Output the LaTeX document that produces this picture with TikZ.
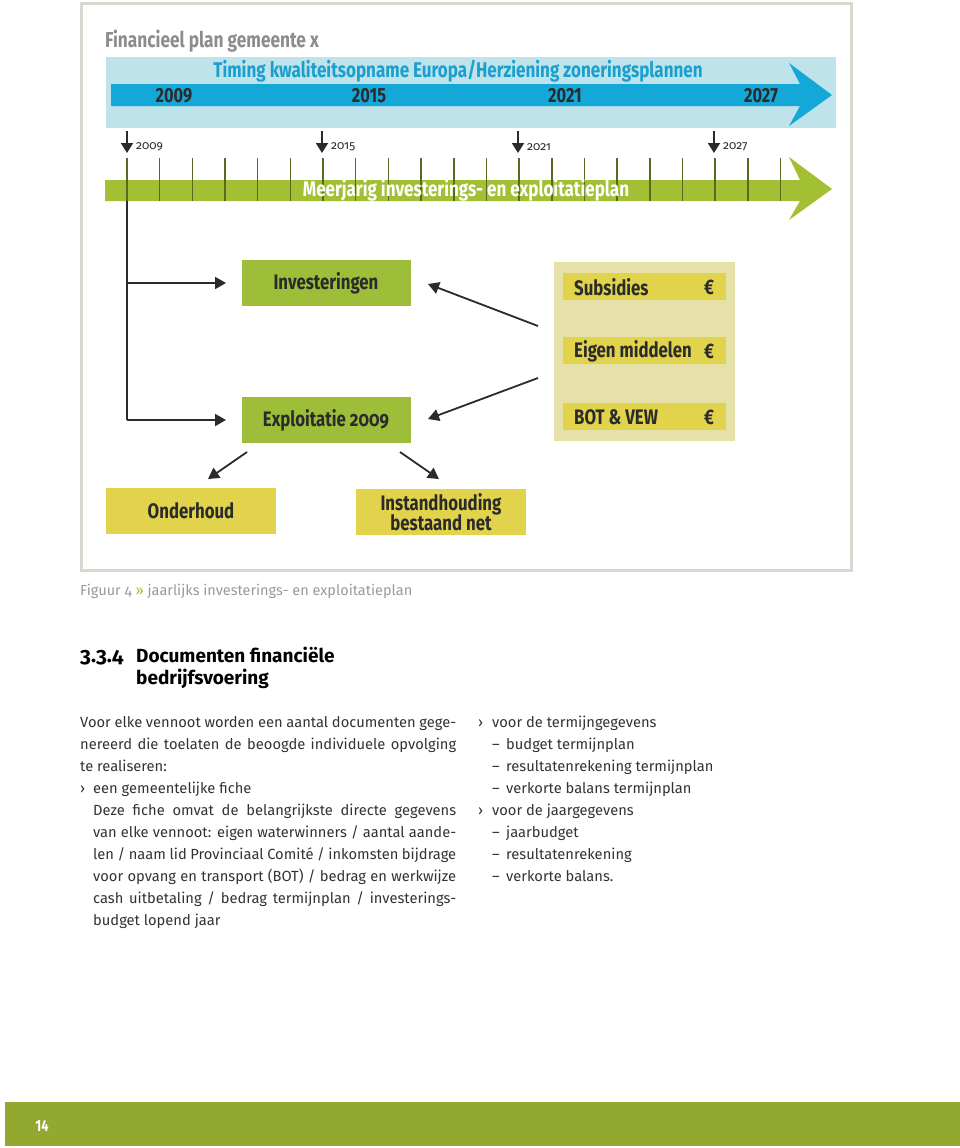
\documentclass[tikz,border=0pt]{standalone}
\usepackage{fontspec}
\setmainfont{Fira Sans}
\newfontfamily\cond[FakeStretch=0.8]{Fira Sans}
\newfontfamily\condosf[FakeStretch=0.8,Numbers=OldStyle]{Fira Sans}
\newfontfamily\osf[Numbers=OldStyle]{Fira Sans}
\usetikzlibrary{arrows.meta}
\definecolor{framegray}{HTML}{D9D9D1}
\definecolor{titlegray}{HTML}{8C8C8C}
\definecolor{lightblue}{HTML}{BEE3EA}
\definecolor{bluearrow}{HTML}{14A8D9}
\definecolor{bluetext}{HTML}{1B9FCF}
\definecolor{greenband}{HTML}{A3BF33}
\definecolor{tickcol}{HTML}{5A6A1C}
\definecolor{greenbox}{HTML}{9EBE3A}
\definecolor{yellowbox}{HTML}{E2D34C}
\definecolor{beige}{HTML}{E6E0A9}
\definecolor{footgreen}{HTML}{93A830}
\definecolor{darktext}{HTML}{2B2B2B}
\definecolor{captgray}{HTML}{9A9A9A}
\definecolor{bodytext}{HTML}{333333}
\begin{document}
\begin{tikzpicture}[x=1pt,y=-1pt,
  boxtext/.style={font=\cond\bfseries\fontsize{21}{20}\selectfont, text=darktext},
  greenrect/.style={fill=greenbox, minimum width=169pt, minimum height=46pt, inner sep=0pt, boxtext},
  yellowrect/.style={fill=yellowbox, minimum width=170pt, minimum height=46pt, inner sep=0pt, boxtext, align=center},
  finrect/.style={fill=yellowbox, minimum width=163pt, minimum height=27pt, inner sep=0pt},
  conn/.style={draw=darktext, line width=1.8pt, -{Triangle[length=11pt,width=12pt]}},
  tick/.style={draw=tickcol, line width=1.6pt},
  yearlbl/.style={font=\osf\fontsize{12}{14}\selectfont, text=darktext, anchor=west, inner sep=0pt},
  bigyear/.style={font=\cond\bfseries\fontsize{20.5}{22}\selectfont, text=darktext, inner sep=0pt},
  bandtext/.style={inner sep=0pt, font=\cond\bfseries\fontsize{21.3}{22}\selectfont},
  body/.style={font=\fontsize{14.7}{17}\selectfont, text=bodytext, anchor=base west, inner sep=0pt},
]
\useasboundingbox (0,0) rectangle (960,1148);
\fill[white] (0,0) rectangle (960,1148);

% frame
\draw[framegray, line width=3pt] (81.5,3.5) rectangle (851.5,570.5);

% title
\node[anchor=west, inner sep=0pt, text=titlegray, font=\cond\bfseries\fontsize{21.6}{22}\selectfont] (title) at (105,41) {Financieel plan gemeente x};

% blue timing band
\fill[lightblue] (106,57) rectangle (836,128);
\fill[bluearrow] (111,84) -- (800,84) -- (789,63) -- (832,95) -- (789,126) -- (800,106) -- (111,106) -- cycle;
\node[bandtext, text=bluetext] (timing) at (458,71) {Timing kwaliteitsopname Europa/Herziening zoneringsplannen};
\node[bigyear] (y1) at (174,96) {2009};
\node[bigyear] (y2) at (369,96) {2015};
\node[bigyear] (y3) at (565,96) {2021};
\node[bigyear] (y4) at (761,96) {2027};

% small down arrows with years
\foreach \x/\yr [count=\i] in {127/2009,322/2015,518/2021,714/2027}{
  \coordinate (da\i) at (\x,131);
  \coordinate (db\i) at (\x,153);
  \draw[draw=darktext, line width=1.8pt, -{Triangle[length=10pt,width=12pt]}] (da\i) -- (db\i);
  \node[yearlbl] (sy\i) at (\x+9,147) {\yr};
}

% green band
\fill[greenband] (105,180) -- (800,180) -- (789,157) -- (832,189) -- (789,220) -- (800,201) -- (105,201) -- cycle;
\foreach \i in {0,...,20}{
  \draw[tick] (127+\i*32.67,158) -- (127+\i*32.67,201);
}
\node[bandtext, text=white] (meer) at (466,190) {Meerjarig investerings- en exploitatieplan};

% boxes
\node[greenrect] (inv) at (326,283) {Investeringen};
\node[greenrect] (expl) at (326,420) {\condosf\bfseries Exploitatie 2009};
\fill[beige] (554,262) rectangle (735,441);
\node[finrect] (sub) at (644,286) {};
\node[boxtext, anchor=west, inner sep=0pt] (subt) at (574,287) {Subsidies};
\node[boxtext, inner sep=0pt] (sube) at (709,287) {€};
\node[finrect] (eig) at (644,350) {};
\node[boxtext, anchor=west, inner sep=0pt] (eigt) at (574,351) {Eigen middelen};
\node[boxtext, inner sep=0pt] (eige) at (709,351) {€};
\node[finrect] (bot) at (644,416) {};
\node[boxtext, anchor=west, inner sep=0pt] (bott) at (574,417) {BOT \& VEW};
\node[boxtext, inner sep=0pt] (bote) at (709,417) {€};

\node[yellowrect] (ond) at (191,511) {Onderhoud};
\node[yellowrect] (inst) at (441,512) {Instandhouding\\[-1pt]bestaand net};

% connectors
\coordinate (vtop) at (127,201);
\coordinate (vinv) at (127,283);
\coordinate (vexp) at (127,420);
\coordinate (tinv) at (226,283);
\coordinate (texp) at (226,420);
\draw[draw=darktext, line width=1.8pt] (vtop) -- (vexp);
\draw[conn] (vinv) -- (tinv);
\draw[conn] (vexp) -- (texp);

\coordinate (s1) at (538,326);
\coordinate (e1) at (428,284);
\coordinate (s2) at (538,378);
\coordinate (e2) at (428,419);
\draw[conn] (s1) -- (e1);
\draw[conn] (s2) -- (e2);

\coordinate (s3) at (247,452);
\coordinate (e3) at (208,479);
\coordinate (s4) at (400,452);
\coordinate (e4) at (439,479);
\draw[conn] (s3) -- (e3);
\draw[conn] (s4) -- (e4);

% caption
\node[anchor=west, inner sep=0pt, text=captgray, font=\osf\fontsize{14.5}{17}\selectfont] (capt) at (80,591) {Figuur 4 \textcolor{greenband}{»} jaarlijks investerings- en exploitatieplan};

% heading
\node[anchor=base west, inner sep=0pt, text=black, font=\osf\bfseries\fontsize{21}{22}\selectfont] (hnum) at (80,662) {3.3.4};
\node[anchor=base west, inner sep=0pt, text=black, font=\bfseries\fontsize{19}{22}\selectfont] (h1) at (136,662) {Documenten financiële};
\node[anchor=base west, inner sep=0pt, text=black, font=\bfseries\fontsize{19}{22}\selectfont] (h2) at (136,684) {bedrijfsvoering};

% left column
\node[body] (l1) at (80,727) {\makebox[376pt][s]{Voor elke vennoot worden een aantal documenten gege-}};
\node[body] (l2) at (80,749) {\makebox[376pt][s]{nereerd die toelaten de beoogde individuele opvolging}};
\node[body] (l3) at (80,771) {te realiseren:};
\node[body] (l4b) at (80,793) {›};
\node[body] (l4) at (93,793) {een gemeentelijke fiche};
\node[body] (l5) at (93,815) {\makebox[363pt][s]{Deze fiche omvat de belangrijkste directe gegevens}};
\node[body] (l6) at (93,837) {\makebox[363pt][s]{van elke vennoot: eigen waterwinners / aantal aande-}};
\node[body] (l7) at (93,859) {\makebox[363pt][s]{len / naam lid Provinciaal Comité / inkomsten bijdrage}};
\node[body] (l8) at (93,881) {\makebox[363pt][s]{voor opvang en transport (BOT) / bedrag en werkwijze}};
\node[body] (l9) at (93,903) {\makebox[363pt][s]{cash uitbetaling / bedrag termijnplan / investerings-}};
\node[body] (l10) at (93,925) {budget lopend jaar};

% right column
\node[body] (r1b) at (478,727) {›};
\node[body] (r1) at (492,727) {voor de termijngegevens};
\node[body] (r2b) at (492,749) {–};
\node[body] (r2) at (506,749) {budget termijnplan};
\node[body] (r3b) at (492,771) {–};
\node[body] (r3) at (506,771) {resultatenrekening termijnplan};
\node[body] (r4b) at (492,793) {–};
\node[body] (r4) at (506,793) {verkorte balans termijnplan};
\node[body] (r5b) at (478,815) {›};
\node[body] (r5) at (492,815) {voor de jaargegevens};
\node[body] (r6b) at (492,837) {–};
\node[body] (r6) at (506,837) {jaarbudget};
\node[body] (r7b) at (492,859) {–};
\node[body] (r7) at (506,859) {resultatenrekening};
\node[body] (r8b) at (492,881) {–};
\node[body] (r8) at (506,881) {verkorte balans.};

% footer
\fill[footgreen] (5,1102) rectangle (960,1146);
\node[inner sep=0pt, text=white, font=\cond\bfseries\fontsize{16}{17}\selectfont] (page) at (42,1126) {14};
\end{tikzpicture}
\end{document}
